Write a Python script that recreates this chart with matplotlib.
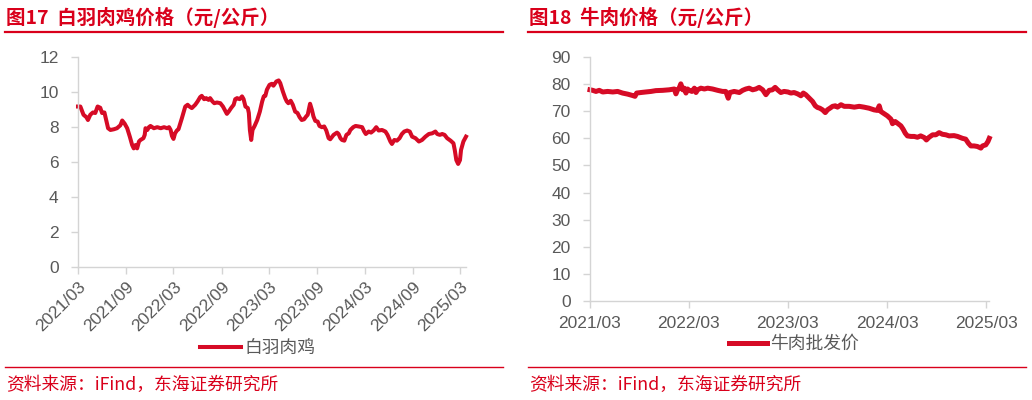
import pandas as pd
import matplotlib
matplotlib.use("Agg")
import matplotlib.pyplot as plt
import matplotlib.dates as mdates
from matplotlib.lines import Line2D

plt.rcParams['font.family'] = ['Liberation Sans', 'Noto Sans CJK SC', 'DejaVu Sans']
CJK = ['Noto Sans CJK SC', 'DejaVu Sans']

RED = '#D9001B'
LINE_RED = '#D60B26'
GRAY = '#595959'
SPINE = '#D4D4D4'

# 白羽肉鸡 (元/公斤)
chicken_dates = [
    "2021-03-01", "2021-03-10", "2021-03-22", "2021-04-02", "2021-04-08", "2021-04-17",
    "2021-04-27", "2021-05-06", "2021-05-15", "2021-05-25", "2021-06-01", "2021-06-10",
    "2021-06-18", "2021-06-24", "2021-07-03", "2021-07-16", "2021-07-28", "2021-08-10",
    "2021-08-17", "2021-08-26", "2021-09-05", "2021-09-15", "2021-09-24", "2021-09-30",
    "2021-10-07", "2021-10-13", "2021-10-20", "2021-10-26", "2021-11-06", "2021-11-11",
    "2021-11-14", "2021-11-21", "2021-11-27", "2021-12-03", "2021-12-16", "2021-12-29",
    "2022-01-11", "2022-01-24", "2022-02-05", "2022-02-12", "2022-02-18", "2022-02-23",
    "2022-03-01", "2022-03-07", "2022-03-14", "2022-03-20", "2022-03-27", "2022-04-02",
    "2022-04-08", "2022-04-15", "2022-04-24", "2022-05-01", "2022-05-10", "2022-05-23",
    "2022-06-01", "2022-06-11", "2022-06-17", "2022-06-26", "2022-07-04", "2022-07-13",
    "2022-07-19", "2022-07-28", "2022-08-04", "2022-08-14", "2022-08-27", "2022-09-06",
    "2022-09-13", "2022-09-21", "2022-09-28", "2022-10-07", "2022-10-17", "2022-10-23",
    "2022-10-30", "2022-11-09", "2022-11-18", "2022-11-24", "2022-12-01", "2022-12-10",
    "2022-12-14", "2022-12-18", "2022-12-23", "2022-12-28", "2023-01-05", "2023-01-15",
    "2023-01-25", "2023-02-03", "2023-02-09", "2023-02-15", "2023-02-21", "2023-03-03",
    "2023-03-12", "2023-03-18", "2023-03-29", "2023-04-07", "2023-04-13", "2023-04-23",
    "2023-05-02", "2023-05-08", "2023-05-14", "2023-05-23", "2023-05-31", "2023-06-09",
    "2023-06-18", "2023-06-26", "2023-07-04", "2023-07-13", "2023-07-21", "2023-07-27",
    "2023-08-05", "2023-08-12", "2023-08-18", "2023-08-25", "2023-09-03", "2023-09-10",
    "2023-09-19", "2023-09-28", "2023-10-06", "2023-10-15", "2023-10-21", "2023-11-03",
    "2023-11-16", "2023-11-22", "2023-11-29", "2023-12-05", "2023-12-14", "2023-12-22",
    "2023-12-31", "2024-01-06", "2024-01-17", "2024-01-26", "2024-02-07", "2024-02-20",
    "2024-02-28", "2024-03-05", "2024-03-16", "2024-03-25", "2024-04-04", "2024-04-14",
    "2024-04-23", "2024-05-06", "2024-05-19", "2024-05-27", "2024-06-07", "2024-06-13",
    "2024-06-22", "2024-07-02", "2024-07-12", "2024-07-21", "2024-07-30", "2024-08-10",
    "2024-08-20", "2024-08-29", "2024-09-11", "2024-09-24", "2024-10-06", "2024-10-19",
    "2024-11-01", "2024-11-14", "2024-11-26", "2024-12-03", "2024-12-13", "2024-12-22",
    "2024-12-31", "2025-01-10", "2025-01-23", "2025-02-03", "2025-02-08", "2025-02-14",
    "2025-02-21", "2025-02-28", "2025-03-04", "2025-03-13", "2025-03-23",
]
chicken_price = [
    9.17, 9.17, 8.70, 8.56, 8.40, 8.70,
    8.83, 8.80, 9.17, 9.10, 8.80, 8.83,
    8.30, 7.93, 7.83, 7.87, 7.93, 8.10,
    8.37, 8.20, 7.93, 7.45, 6.97, 6.78,
    6.97, 6.78, 7.17, 7.26, 7.36, 7.55,
    7.93, 7.83, 7.99, 8.06, 7.93, 7.99,
    7.93, 7.99, 7.93, 7.99, 7.83, 7.49,
    7.32, 7.64, 7.80, 7.87, 8.20, 8.50,
    8.80, 9.17, 9.27, 9.17, 9.08, 9.27,
    9.46, 9.71, 9.78, 9.59, 9.65, 9.55,
    9.65, 9.46, 9.36, 9.40, 9.36, 9.17,
    8.98, 8.75, 8.88, 9.08, 9.27, 9.59,
    9.65, 9.59, 9.75, 9.59, 9.17, 9.08,
    8.80, 7.83, 7.26, 7.83, 8.06, 8.40,
    8.88, 9.46, 9.75, 9.78, 10.13, 10.41,
    10.47, 10.36, 10.60, 10.66, 10.51, 10.03,
    9.65, 9.46, 9.36, 9.50, 9.27, 8.88,
    8.80, 8.56, 8.40, 8.44, 8.60, 8.70,
    9.33, 8.98, 8.60, 8.35, 8.31, 8.06,
    7.99, 8.03, 7.80, 7.36, 7.30, 7.55,
    7.68, 7.60, 7.36, 7.26, 7.22, 7.55,
    7.64, 7.83, 7.99, 8.06, 8.03, 7.99,
    7.74, 7.60, 7.74, 7.68, 7.80, 7.99,
    7.80, 7.83, 7.74, 7.55, 7.17, 7.03,
    7.26, 7.22, 7.36, 7.60, 7.74, 7.80,
    7.74, 7.45, 7.36, 7.17, 7.26, 7.45,
    7.60, 7.64, 7.74, 7.60, 7.55, 7.60,
    7.55, 7.36, 7.22, 7.07, 6.69, 6.11,
    5.89, 6.11, 6.69, 7.17, 7.45,
]

# 牛肉批发价 (元/公斤)
beef_dates = [
    "2021-03-01", "2021-03-11", "2021-03-23", "2021-04-04", "2021-04-17", "2021-05-05",
    "2021-05-24", "2021-06-11", "2021-06-29", "2021-07-18", "2021-08-05", "2021-08-14",
    "2021-08-20", "2021-09-05", "2021-09-23", "2021-10-12", "2021-10-30", "2021-11-24",
    "2021-12-18", "2022-01-06", "2022-01-12", "2022-01-18", "2022-01-24", "2022-01-30",
    "2022-02-06", "2022-02-12", "2022-02-18", "2022-02-24", "2022-03-02", "2022-03-12",
    "2022-03-21", "2022-03-27", "2022-04-02", "2022-04-14", "2022-04-27", "2022-05-09",
    "2022-05-27", "2022-06-15", "2022-07-03", "2022-07-15", "2022-07-24", "2022-07-30",
    "2022-08-15", "2022-09-03", "2022-09-15", "2022-09-27", "2022-10-09", "2022-10-22",
    "2022-11-03", "2022-11-15", "2022-11-28", "2022-12-10", "2022-12-22", "2023-01-03",
    "2023-01-13", "2023-01-22", "2023-02-03", "2023-02-15", "2023-03-01", "2023-03-12",
    "2023-03-24", "2023-04-06", "2023-04-18", "2023-04-27", "2023-05-06", "2023-05-19",
    "2023-05-31", "2023-06-10", "2023-06-18", "2023-06-27", "2023-07-07", "2023-07-17",
    "2023-07-25", "2023-08-03", "2023-08-13", "2023-08-23", "2023-08-31", "2023-09-13",
    "2023-09-25", "2023-10-13", "2023-11-01", "2023-11-19", "2023-12-07", "2023-12-26",
    "2024-01-13", "2024-01-25", "2024-02-01", "2024-02-07", "2024-02-19", "2024-03-02",
    "2024-03-15", "2024-03-21", "2024-03-31", "2024-04-08", "2024-04-21", "2024-04-29",
    "2024-05-07", "2024-05-15", "2024-05-28", "2024-06-09", "2024-06-21", "2024-07-03",
    "2024-07-16", "2024-07-24", "2024-08-03", "2024-08-16", "2024-08-28", "2024-09-09",
    "2024-09-21", "2024-10-04", "2024-10-16", "2024-11-03", "2024-11-16", "2024-12-04",
    "2024-12-16", "2024-12-26", "2025-01-04", "2025-01-16", "2025-01-28", "2025-02-10",
    "2025-02-16", "2025-02-28", "2025-03-08", "2025-03-13",
]
beef_price = [
    77.9, 77.7, 77.3, 77.7, 77.1, 77.3,
    77.1, 77.3, 76.7, 76.3, 75.8, 75.5,
    76.7, 76.9, 77.1, 77.3, 77.6, 77.7,
    77.9, 78.2, 76.4, 77.9, 78.5, 80.1,
    77.9, 78.5, 76.7, 78.2, 77.7, 77.3,
    78.5, 76.9, 77.9, 78.5, 78.2, 78.5,
    78.2, 77.7, 77.3, 77.3, 74.8, 76.9,
    77.3, 76.9, 77.7, 78.2, 78.5, 77.9,
    78.2, 78.8, 77.9, 76.1, 77.7, 77.9,
    78.8, 77.9, 76.9, 77.3, 77.1, 76.7,
    76.9, 76.4, 75.7, 76.7, 76.1, 74.8,
    73.6, 72.0, 71.4, 71.1, 70.5, 69.5,
    70.5, 71.1, 71.8, 72.0, 71.5, 72.4,
    71.8, 71.8, 71.5, 71.8, 71.5, 71.1,
    70.5, 70.3, 72.0, 69.9, 69.1, 68.3,
    67.1, 65.4, 66.2, 65.6, 64.6, 63.4,
    61.9, 60.9, 60.7, 60.7, 60.4, 60.9,
    60.3, 59.4, 60.4, 61.3, 61.3, 62.1,
    61.5, 61.3, 60.9, 61.0, 60.7, 60.0,
    59.7, 58.2, 57.2, 57.2, 57.0, 56.4,
    57.2, 57.6, 58.8, 60.0,
]

W, H = 1032, 400
fig = plt.figure(figsize=(W / 100, H / 100), dpi=100)


def px_axes(left, top, right, bottom):
    return fig.add_axes([left / W, 1 - bottom / H, (right - left) / W, (bottom - top) / H])


def style_axes(ax):
    for s in ['top', 'right']:
        ax.spines[s].set_visible(False)
    for s in ['left', 'bottom']:
        ax.spines[s].set_color(SPINE)
        ax.spines[s].set_linewidth(1.0)
    ax.tick_params(axis='both', colors=SPINE, labelcolor=GRAY, labelsize=12.5,
                   length=5, width=1.0)
    ax.tick_params(axis='y', pad=9)


# ---- left: chicken ----
ax1 = px_axes(78, 57, 466, 267)
x1 = pd.to_datetime(chicken_dates)
ax1.plot(x1, chicken_price, color=LINE_RED, lw=2.9, solid_joinstyle='round', label='白羽肉鸡', clip_on=False)
ax1.set_ylim(0, 12)
ax1.set_yticks(range(0, 13, 2))
ax1.set_xlim(pd.Timestamp("2021-03-01"), pd.Timestamp("2025-03-23"))
left_ticks = pd.to_datetime(["2021-03-01", "2021-09-01", "2022-03-01", "2022-09-01", "2023-03-01",
                             "2023-09-01", "2024-03-01", "2024-09-01", "2025-03-01"])
ax1.set_xticks(left_ticks)
ax1.xaxis.set_major_formatter(mdates.DateFormatter('%Y/%m'))
style_axes(ax1)
ax1.tick_params(axis='x', pad=4)
for lab in ax1.get_xticklabels():
    lab.set_rotation(45)
    lab.set_ha('right')
    lab.set_rotation_mode('anchor')
leg1 = ax1.legend(loc='center', bbox_to_anchor=(258 / W, 1 - 348 / H), bbox_transform=fig.transFigure,
                  frameon=False, handlelength=2.3, handletextpad=0.2,
                  prop={'family': CJK, 'size': 12.8})
for t in leg1.get_texts():
    t.set_color(GRAY)

# ---- right: beef ----
ax2 = px_axes(590, 57, 989, 301)
x2 = pd.to_datetime(beef_dates)
ax2.plot(x2, beef_price, color=LINE_RED, lw=3.6, solid_joinstyle='round', label='牛肉批发价', clip_on=False)
ax2.set_ylim(0, 90)
ax2.set_yticks(range(0, 91, 10))
ax2.set_xlim(pd.Timestamp("2021-03-01"), pd.Timestamp("2025-03-12"))
ax2.set_xticks(pd.to_datetime(["2021-03-01", "2022-03-01", "2023-03-01", "2024-03-01", "2025-03-01"]))
ax2.xaxis.set_major_formatter(mdates.DateFormatter('%Y/%m'))
style_axes(ax2)
ax2.tick_params(axis='x', pad=6)
leg2 = ax2.legend(loc='center', bbox_to_anchor=(794 / W, 1 - 344 / H), bbox_transform=fig.transFigure,
                  frameon=False, handlelength=2.1, handletextpad=0.2,
                  prop={'family': CJK, 'size': 12.8})
for t in leg2.get_texts():
    t.set_color(GRAY)

# ---- titles, rules, source ----
for x0, x_end, title in [(6, 503, '图17  白羽肉鸡价格（元/公斤）'), (529, 1026, '图18  牛肉价格（元/公斤）')]:
    fig.text(x0 / W, 1 - 17 / H, title, family=CJK, fontsize=14, fontweight='bold',
             color=RED, ha='left', va='center')
    fig.add_artist(Line2D([(x0 - 1) / W, x_end / W], [1 - 32 / H] * 2, color=RED, lw=1.6))
    fig.add_artist(Line2D([(x0 - 1) / W, x_end / W], [1 - 367 / H] * 2, color=RED, lw=1.0))
    fig.text(x0 / W, 1 - 385 / H, '资料来源：iFind，东海证券研究所', family=CJK, fontsize=12.8,
             color=RED, ha='left', va='center')

fig.savefig('out.png', dpi=100)
